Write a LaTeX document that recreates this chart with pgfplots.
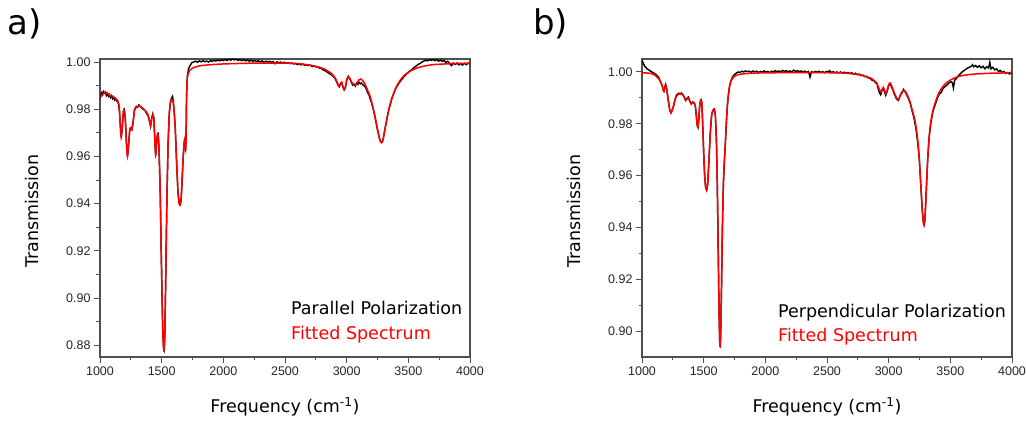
\documentclass[border=0pt]{standalone}
\usepackage{fontspec}
\setmainfont{DejaVu Sans}
\newfontfamily\tickfont{Liberation Sans}
\usepackage{pgfplots}
\usepackage{pgfplotstable}
\pgfplotsset{compat=1.18}
\definecolor{AxisGray}{HTML}{505050}
\definecolor{FitRed}{HTML}{FF0000}

% panel a) parallel polarization, fitted spectrum
\pgfplotstableread{
f T
1000 0.9850
1020 0.9862
1040 0.9872
1060 0.9868
1080 0.9858
1100 0.9855
1120 0.9848
1140 0.9838
1155 0.9815
1165 0.9730
1172 0.9680
1180 0.9720
1190 0.9790
1197 0.9795
1205 0.9760
1215 0.9650
1223 0.9600
1232 0.9650
1242 0.9715
1250 0.9720
1258 0.9712
1268 0.9740
1280 0.9795
1295 0.9808
1315 0.9815
1335 0.9810
1355 0.9800
1375 0.9790
1390 0.9775
1402 0.9750
1410 0.9730
1418 0.9755
1428 0.9778
1436 0.9765
1444 0.9680
1451 0.9606
1458 0.9650
1465 0.9690
1471 0.9693
1478 0.9640
1488 0.9450
1498 0.9150
1508 0.8880
1515 0.8790
1520 0.8780
1525 0.8830
1532 0.9050
1542 0.9400
1552 0.9650
1562 0.9780
1572 0.9830
1582 0.9842
1590 0.9838
1600 0.9800
1610 0.9720
1620 0.9590
1632 0.9450
1642 0.9400
1650 0.9394
1658 0.9420
1666 0.9500
1674 0.9590
1680 0.9640
1686 0.9670
1690 0.9640
1694 0.9630
1698 0.9680
1702 0.9850
1708 0.9930
1718 0.9955
1730 0.9966
1750 0.9974
1780 0.9980
1820 0.9985
1900 0.9989
2000 0.9992
2200 0.9995
2400 0.9996
2550 0.9995
2650 0.9991
2750 0.9982
2820 0.9970
2880 0.9950
2910 0.9930
2930 0.9905
2940 0.9898
2950 0.9910
2960 0.9915
2970 0.9895
2980 0.9884
2990 0.9895
3000 0.9925
3013 0.9938
3025 0.9932
3040 0.9915
3058 0.9905
3070 0.9903
3085 0.9912
3100 0.9925
3115 0.9928
3130 0.9922
3150 0.9905
3170 0.9880
3190 0.9855
3210 0.9815
3230 0.9770
3250 0.9715
3265 0.9678
3275 0.9662
3283 0.9658
3292 0.9665
3305 0.9700
3320 0.9742
3340 0.9795
3360 0.9835
3380 0.9865
3400 0.9892
3430 0.9920
3470 0.9945
3510 0.9960
3560 0.9973
3620 0.9982
3700 0.9989
3800 0.9992
3900 0.9994
4000 0.9995
}\fitA

% panel a) measured
\pgfplotstableread{
f T
1000 0.9845
1008 0.9858
1015 0.9870
1022 0.9862
1030 0.9875
1038 0.9868
1045 0.9872
1052 0.9858
1060 0.9866
1068 0.9855
1076 0.9862
1085 0.9850
1094 0.9858
1102 0.9845
1110 0.9852
1118 0.9840
1126 0.9846
1134 0.9835
1142 0.9838
1150 0.9822
1158 0.9790
1165 0.9728
1172 0.9682
1180 0.9722
1190 0.9792
1197 0.9798
1205 0.9762
1215 0.9652
1223 0.9602
1232 0.9652
1242 0.9718
1250 0.9722
1258 0.9715
1268 0.9745
1280 0.9800
1295 0.9812
1305 0.9808
1315 0.9818
1325 0.9812
1335 0.9808
1345 0.9802
1355 0.9798
1365 0.9795
1375 0.9785
1390 0.9772
1402 0.9748
1410 0.9728
1418 0.9758
1428 0.9780
1436 0.9762
1444 0.9678
1451 0.9604
1458 0.9652
1465 0.9692
1471 0.9696
1478 0.9640
1488 0.9452
1498 0.9152
1508 0.8882
1515 0.8792
1520 0.8782
1525 0.8832
1532 0.9052
1542 0.9402
1552 0.9652
1562 0.9785
1572 0.9835
1582 0.9850
1588 0.9855
1594 0.9838
1600 0.9800
1610 0.9722
1620 0.9592
1632 0.9452
1642 0.9402
1650 0.9396
1658 0.9422
1666 0.9502
1674 0.9592
1680 0.9642
1686 0.9675
1690 0.9642
1694 0.9632
1698 0.9685
1702 0.9860
1708 0.9940
1718 0.9972
1730 0.9985
1745 0.9998
1760 1.0000
1775 1.0004
1790 0.9999
1805 1.0005
1820 1.0001
1835 1.0006
1850 1.0002
1865 1.0004
1880 1.0000
1895 1.0006
1910 1.0003
1925 1.0008
1940 1.0004
1955 1.0009
1970 1.0005
1985 1.0010
2000 1.0006
2015 1.0011
2030 1.0007
2045 1.0012
2060 1.0008
2075 1.0013
2090 1.0009
2105 1.0012
2120 1.0007
2135 1.0011
2150 1.0006
2165 1.0010
2180 1.0005
2195 1.0009
2210 1.0004
2225 1.0008
2240 1.0003
2255 1.0007
2270 1.0002
2285 1.0006
2300 1.0001
2315 1.0005
2330 0.9998
2345 1.0004
2360 1.0000
2375 1.0003
2390 0.9999
2405 1.0002
2420 0.9993
2435 1.0001
2450 0.9997
2465 1.0000
2480 0.9996
2495 0.9999
2510 0.9995
2525 0.9997
2540 0.9993
2555 0.9996
2570 0.9992
2585 0.9994
2600 0.9989
2615 0.9993
2630 0.9988
2645 0.9991
2660 0.9986
2675 0.9989
2690 0.9985
2705 0.9987
2720 0.9981
2735 0.9984
2750 0.9979
2765 0.9980
2780 0.9974
2795 0.9973
2810 0.9966
2825 0.9964
2840 0.9958
2855 0.9953
2870 0.9948
2885 0.9942
2900 0.9935
2915 0.9920
2930 0.9902
2940 0.9895
2950 0.9908
2960 0.9912
2970 0.9893
2980 0.9882
2990 0.9892
3000 0.9922
3013 0.9940
3025 0.9930
3040 0.9912
3050 0.9902
3060 0.9906
3070 0.9898
3080 0.9910
3090 0.9905
3100 0.9915
3110 0.9908
3120 0.9912
3130 0.9904
3140 0.9900
3150 0.9895
3160 0.9885
3170 0.9870
3180 0.9862
3190 0.9845
3200 0.9830
3210 0.9812
3220 0.9790
3230 0.9765
3240 0.9740
3250 0.9712
3260 0.9690
3270 0.9670
3280 0.9660
3288 0.9662
3296 0.9672
3305 0.9700
3315 0.9728
3325 0.9755
3335 0.9782
3345 0.9805
3355 0.9822
3365 0.9845
3375 0.9858
3385 0.9872
3395 0.9885
3405 0.9895
3415 0.9902
3425 0.9912
3435 0.9918
3445 0.9926
3455 0.9930
3465 0.9940
3475 0.9942
3485 0.9950
3495 0.9953
3505 0.9960
3520 0.9964
3535 0.9972
3550 0.9978
3565 0.9984
3580 0.9990
3595 0.9994
3610 1.0000
3625 1.0004
3640 1.0008
3655 1.0005
3670 1.0010
3685 1.0007
3700 1.0011
3715 1.0006
3730 1.0010
3745 1.0004
3760 1.0009
3775 1.0003
3790 1.0007
3805 0.9998
3820 1.0003
3835 0.9994
3850 0.9985
3865 0.9996
3880 0.9990
3895 0.9996
3910 0.9988
3925 0.9994
3940 0.9987
3955 0.9995
3970 0.9989
3985 0.9996
4000 0.9992
}\measA

% panel b) perpendicular polarization, fitted spectrum
\pgfplotstableread{
f T
1000 0.9996
1040 0.9996
1070 0.9994
1092 0.9991
1115 0.9984
1135 0.9974
1150 0.9962
1165 0.9945
1172 0.9930
1178 0.9927
1185 0.9940
1192 0.9949
1200 0.9935
1212 0.9895
1225 0.9855
1235 0.9842
1245 0.9852
1256 0.9868
1268 0.9892
1281 0.9908
1295 0.9914
1310 0.9916
1322 0.9916
1335 0.9910
1345 0.9900
1355 0.9893
1365 0.9895
1376 0.9900
1388 0.9888
1400 0.9878
1412 0.9882
1422 0.9882
1432 0.9870
1440 0.9835
1448 0.9795
1454 0.9788
1460 0.9815
1467 0.9865
1474 0.9888
1479 0.9891
1485 0.9880
1492 0.9800
1500 0.9690
1508 0.9600
1516 0.9555
1524 0.9544
1532 0.9565
1542 0.9650
1553 0.9760
1565 0.9835
1577 0.9853
1587 0.9855
1595 0.9830
1603 0.9740
1610 0.9580
1617 0.9350
1624 0.9100
1630 0.8960
1634 0.8940
1638 0.8990
1644 0.9150
1652 0.9400
1660 0.9570
1668 0.9660
1675 0.9720
1683 0.9800
1692 0.9870
1700 0.9910
1710 0.9945
1720 0.9962
1735 0.9976
1760 0.9986
1795 0.9991
1850 0.9994
1950 0.9996
2100 0.9997
2300 0.9997
2500 0.9997
2620 0.9996
2700 0.9993
2760 0.9989
2810 0.9983
2850 0.9977
2880 0.9968
2903 0.9958
2920 0.9938
2935 0.9923
2946 0.9932
2957 0.9940
2967 0.9928
2976 0.9916
2988 0.9930
3000 0.9950
3011 0.9958
3025 0.9945
3045 0.9920
3062 0.9902
3079 0.9893
3095 0.9910
3110 0.9925
3125 0.9929
3140 0.9922
3157 0.9905
3173 0.9885
3190 0.9855
3205 0.9830
3220 0.9795
3235 0.9740
3248 0.9670
3260 0.9570
3272 0.9470
3281 0.9420
3287 0.9409
3294 0.9430
3303 0.9520
3316 0.9660
3328 0.9750
3341 0.9805
3358 0.9850
3376 0.9880
3395 0.9905
3417 0.9928
3450 0.9950
3498 0.9968
3550 0.9980
3606 0.9987
3700 0.9992
3822 0.9995
3920 0.9996
4000 0.9997
}\fitB

% panel b) measured
\pgfplotstableread{
f T
1000 1.0045
1005 1.0040
1010 1.0035
1016 1.0028
1022 1.0022
1030 1.0018
1040 1.0012
1050 1.0010
1060 1.0005
1070 1.0004
1080 0.9999
1092 0.9998
1105 0.9992
1115 0.9990
1125 0.9984
1135 0.9980
1145 0.9968
1155 0.9958
1165 0.9945
1172 0.9930
1178 0.9925
1185 0.9942
1192 0.9952
1200 0.9935
1212 0.9893
1225 0.9853
1235 0.9842
1245 0.9853
1256 0.9870
1268 0.9895
1281 0.9912
1290 0.9915
1300 0.9918
1310 0.9914
1320 0.9919
1330 0.9912
1340 0.9906
1345 0.9898
1355 0.9890
1365 0.9898
1376 0.9903
1388 0.9886
1400 0.9876
1412 0.9884
1422 0.9880
1432 0.9868
1440 0.9833
1448 0.9793
1454 0.9786
1460 0.9815
1467 0.9866
1474 0.9890
1479 0.9893
1485 0.9880
1492 0.9800
1500 0.9690
1508 0.9600
1516 0.9555
1524 0.9544
1532 0.9565
1542 0.9650
1553 0.9760
1565 0.9835
1577 0.9853
1587 0.9857
1595 0.9830
1603 0.9740
1610 0.9580
1617 0.9350
1624 0.9100
1630 0.8960
1634 0.8942
1638 0.8990
1644 0.9150
1652 0.9400
1660 0.9568
1668 0.9655
1675 0.9712
1683 0.9795
1692 0.9868
1700 0.9908
1710 0.9945
1720 0.9965
1735 0.9982
1750 0.9990
1765 0.9996
1780 1.0000
1795 0.9998
1810 1.0003
1825 1.0000
1840 1.0004
1855 1.0001
1870 1.0003
1885 0.9999
1900 1.0004
1915 1.0000
1930 1.0003
1945 0.9998
1960 1.0002
1975 0.9999
1990 1.0004
2005 1.0000
2020 1.0002
2035 0.9998
2050 1.0003
2065 1.0000
2080 1.0005
2095 1.0001
2110 1.0004
2125 1.0000
2140 1.0006
2155 1.0002
2170 1.0005
2185 1.0001
2200 1.0004
2215 1.0000
2230 1.0007
2245 1.0002
2260 1.0005
2275 1.0001
2290 1.0004
2305 0.9999
2320 1.0003
2335 0.9998
2350 1.0002
2362 0.9980
2375 1.0001
2390 0.9998
2405 1.0002
2420 0.9999
2435 1.0003
2450 0.9998
2465 1.0001
2480 0.9997
2495 1.0002
2510 0.9999
2520 1.0005
2535 0.9998
2550 1.0001
2565 0.9997
2580 1.0000
2595 0.9996
2610 1.0000
2625 0.9996
2640 0.9999
2655 0.9995
2670 0.9998
2685 0.9994
2700 0.9997
2715 0.9992
2730 0.9995
2745 0.9990
2760 0.9992
2775 0.9987
2790 0.9988
2805 0.9982
2820 0.9983
2835 0.9977
2850 0.9976
2865 0.9968
2880 0.9966
2895 0.9958
2905 0.9955
2915 0.9935
2925 0.9920
2935 0.9912
2946 0.9930
2957 0.9935
2967 0.9922
2976 0.9910
2988 0.9925
3000 0.9948
3011 0.9955
3025 0.9940
3035 0.9930
3045 0.9915
3055 0.9905
3065 0.9895
3079 0.9890
3090 0.9905
3100 0.9915
3110 0.9920
3120 0.9932
3130 0.9925
3140 0.9918
3150 0.9908
3160 0.9898
3173 0.9882
3190 0.9850
3205 0.9822
3220 0.9785
3235 0.9730
3248 0.9665
3260 0.9570
3272 0.9470
3281 0.9420
3287 0.9410
3294 0.9432
3303 0.9522
3316 0.9658
3328 0.9745
3341 0.9800
3358 0.9845
3376 0.9872
3395 0.9898
3410 0.9915
3425 0.9920
3440 0.9935
3460 0.9945
3475 0.9950
3490 0.9958
3505 0.9962
3515 0.9960
3525 0.9938
3535 0.9968
3550 0.9975
3565 0.9985
3580 0.9992
3595 1.0000
3610 1.0005
3625 1.0010
3640 1.0015
3655 1.0018
3670 1.0022
3680 1.0028
3690 1.0020
3705 1.0025
3720 1.0018
3735 1.0024
3750 1.0016
3765 1.0022
3780 1.0012
3795 1.0020
3810 1.0015
3820 1.0038
3830 1.0012
3845 1.0018
3860 1.0008
3875 1.0012
3890 1.0002
3905 1.0006
3920 0.9998
3935 1.0002
3950 0.9994
3965 0.9998
3980 0.9992
3990 0.9998
4000 0.9994
}\measB

\pgfplotsset{
  spec/.style={
    scale only axis, width=370pt, height=298pt, anchor=south west,
    xmin=1000, xmax=4000,
    xtick={1000,1500,2000,2500,3000,3500,4000},
    minor x tick num=1, minor y tick num=1,
    tick pos=left, tick align=outside,
    major tick length=6pt, minor tick length=3.5pt,
    axis line style={draw=AxisGray, line width=1.1pt},
    every tick/.style={draw=AxisGray, line width=1pt},
    tick label style={font=\tickfont\fontsize{12.5}{14}\selectfont, text=black!85},
    /pgf/number format/assume math mode=true,
    xticklabel style={/pgf/number format/1000 sep={}},
    yticklabel style={/pgf/number format/.cd, fixed, fixed zerofill, precision=2},
    xlabel={Frequency (cm\textsuperscript{-1})},
    ylabel={Transmission},
    label style={font=\fontsize{17.5}{20}\selectfont},
    xlabel style={at={(axis description cs:0.5,-0.168)}, anchor=center},
    ylabel style={at={(axis description cs:-0.185,0.49)}, anchor=center},
  },
  meas/.style={black, line width=1.4pt},
  fit/.style={FitRed, line width=1.5pt, smooth, tension=0.45},
}

\begin{document}
\begin{tikzpicture}
\path[use as bounding box] (0,0) rectangle (1026pt,423pt);

\begin{axis}[spec, at={(100pt,66pt)}, ymin=0.875, ymax=1.0013,
  ytick={0.88,0.90,0.92,0.94,0.96,0.98,1.00}]
  \addplot[meas] table[x=f, y=T] {\measA};
  \addplot[fit] table[x=f, y=T] {\fitA};
\end{axis}

\begin{axis}[spec, at={(642pt,66pt)}, ymin=0.89, ymax=1.005,
  ytick={0.90,0.92,0.94,0.96,0.98,1.00}]
  \addplot[meas] table[x=f, y=T] {\measB};
  \addplot[fit] table[x=f, y=T] {\fitB};
\end{axis}

\node[anchor=base west, inner sep=0, font=\fontsize{34}{40}\selectfont] at (7pt,388pt) {a)};
\node[anchor=base west, inner sep=0, font=\fontsize{34}{40}\selectfont] at (533pt,388pt) {b)};

\node[anchor=base west, inner sep=0, font=\fontsize{17.5}{20}\selectfont] at (291pt,108pt) {Parallel Polarization};
\node[anchor=base west, inner sep=0, font=\fontsize{17.5}{20}\selectfont, text=FitRed] at (291pt,83.7pt) {Fitted Spectrum};
\node[anchor=base west, inner sep=0, font=\fontsize{17.5}{20}\selectfont] at (778pt,105.3pt) {Perpendicular Polarization};
\node[anchor=base west, inner sep=0, font=\fontsize{17.5}{20}\selectfont, text=FitRed] at (778pt,81.3pt) {Fitted Spectrum};
\end{tikzpicture}
\end{document}
